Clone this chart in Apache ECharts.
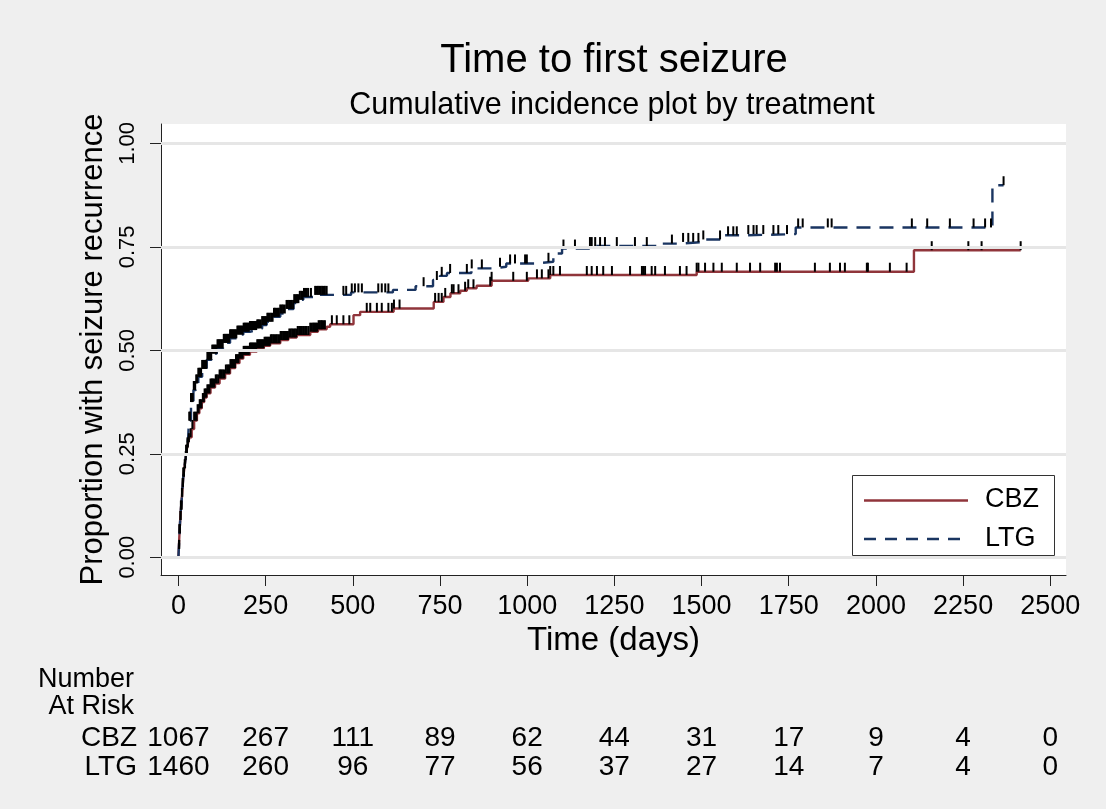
<!DOCTYPE html>
<html>
<head>
<meta charset="utf-8">
<script src="https://cdn.jsdelivr.net/npm/echarts@6/dist/echarts.min.js"></script>
<style>
  html, body { margin: 0; padding: 0; background: #efefef; }
  #chart { width: 1106px; height: 809px; }
</style>
</head>
<body>
<div id="chart"></div>
<script>
// Cumulative incidence steps [days, proportion]
var cbzSteps = [
  [0, 0], [1, 0.02], [3, 0.058], [5, 0.09], [7, 0.115], [10, 0.146], [12, 0.17], [14, 0.195],
  [17, 0.215], [20, 0.235], [22, 0.25], [25, 0.265], [28, 0.278], [32, 0.29], [38, 0.31],
  [45, 0.33], [53, 0.348], [60, 0.36], [67, 0.375], [74, 0.386], [81, 0.396], [92, 0.41],
  [105, 0.42], [118, 0.432], [134, 0.444], [148, 0.457], [163, 0.469], [175, 0.48], [186, 0.489],
  [205, 0.497], [225, 0.505], [245, 0.511], [263, 0.517], [292, 0.525], [315, 0.531], [339, 0.537],
  [378, 0.545], [400, 0.551], [425, 0.557], [435, 0.563], [502, 0.585], [521, 0.593], [617, 0.601],
  [732, 0.617], [760, 0.629], [780, 0.638], [808, 0.644], [827, 0.65], [855, 0.656], [898, 0.668],
  [1003, 0.674], [1066, 0.682], [1486, 0.69], [2109, 0.742], [2415, 0.742]
];
var ltgSteps = [
  [0, 0], [1, 0.02], [3, 0.058], [5, 0.09], [7, 0.115], [10, 0.146], [12, 0.17], [14, 0.195],
  [17, 0.215], [20, 0.235], [22, 0.25], [25, 0.268], [28, 0.29], [30, 0.33], [36, 0.375],
  [43, 0.404], [50, 0.42], [57, 0.436], [68, 0.455], [81, 0.477], [95, 0.492], [110, 0.505],
  [128, 0.518], [148, 0.529], [167, 0.538], [186, 0.545], [205, 0.549], [225, 0.553], [240, 0.561],
  [253, 0.569], [272, 0.581], [292, 0.589], [310, 0.6], [330, 0.614], [345, 0.622], [358, 0.629],
  [392, 0.634], [495, 0.64], [615, 0.646], [680, 0.655], [730, 0.67], [750, 0.68], [770, 0.687],
  [840, 0.698], [900, 0.702], [940, 0.71], [1025, 0.714], [1075, 0.734], [1100, 0.746], [1180, 0.752],
  [1380, 0.758], [1440, 0.762], [1505, 0.768], [1565, 0.778], [1630, 0.781], [1770, 0.797],
  [2334, 0.899], [2366, 0.899]
];

// Censoring times (days)
var cbzCensor = [2, 4, 6, 8, 10, 12, 14, 16, 19, 22, 24, 27, 30, 35, 40, 45, 49, 52, 55, 58, 61,
  63, 66, 70, 73, 75, 78, 80, 83, 86, 89, 92, 95, 97, 100, 103, 107, 110, 114, 118, 121, 124, 128,
  132, 136, 140, 143, 146, 149, 152, 155, 158, 162, 165, 169, 172, 175, 178, 181, 184, 187, 190,
  193, 196, 199, 202, 205, 208, 211, 214, 217, 220, 223, 226, 229, 232, 235, 238, 241, 244, 247,
  250, 253, 256, 259, 262, 265, 268, 272, 275, 279, 282, 286, 290, 293, 296, 300, 303, 306, 310,
  314, 318, 322, 326, 330, 334, 338, 342, 346, 350, 354, 358, 363, 368, 373, 378, 382, 386, 389,
  392, 395, 398, 402, 405, 409, 412, 416, 420, 440, 454, 473, 490, 540, 550, 569, 583, 602, 612,
  618, 634, 736, 746, 755, 765, 784, 789, 803, 822, 831, 846, 894, 898, 960, 999, 1028, 1042,
  1061, 1066, 1075, 1094, 1171, 1185, 1200, 1218, 1243, 1295, 1329, 1333, 1338, 1357, 1367, 1395,
  1438, 1457, 1486, 1491, 1510, 1534, 1558, 1601, 1639, 1668, 1711, 1716, 1725, 1825, 1868, 1897,
  1911, 1974, 1977, 2040, 2088, 2160, 2265, 2303, 2415];
var ltgCensor = [2, 3, 4, 6, 7, 9, 11, 13, 15, 18, 21, 24, 26, 31, 33, 36, 38, 41, 44, 46, 48, 51,
  54, 57, 60, 62, 65, 68, 71, 74, 77, 80, 83, 86, 88, 91, 94, 97, 100, 103, 106, 109, 112, 115,
  118, 121, 124, 127, 130, 133, 136, 139, 142, 145, 148, 151, 154, 157, 160, 163, 166, 169, 172,
  175, 178, 181, 184, 187, 190, 193, 196, 199, 202, 205, 208, 211, 214, 217, 220, 223, 226, 229,
  232, 236, 240, 244, 247, 251, 255, 258, 262, 266, 270, 274, 277, 281, 285, 288, 292, 296, 300,
  305, 310, 314, 318, 322, 325, 329, 332, 336, 340, 344, 348, 352, 356, 360, 364, 368, 372, 380,
  392, 396, 400, 404, 408, 412, 416, 420, 425, 473, 481, 497, 506, 516, 526, 573, 583, 593, 602,
  703, 741, 755, 779, 827, 841, 870, 922, 951, 965, 994, 999, 1061, 1104, 1137, 1180, 1185, 1195,
  1209, 1223, 1257, 1309, 1343, 1415, 1447, 1462, 1476, 1491, 1505, 1553, 1576, 1591, 1601, 1634,
  1649, 1658, 1677, 1706, 1720, 1745, 1777, 1790, 1862, 1873, 2103, 2147, 2212, 2280, 2313, 2330,
  2366];

// Number at risk table
var riskTimes = [0, 250, 500, 750, 1000, 1250, 1500, 1750, 2000, 2250, 2500];
var cbzAtRisk = [1067, 267, 111, 89, 62, 44, 31, 17, 9, 4, 0];
var ltgAtRisk = [1460, 260, 96, 77, 56, 37, 27, 14, 7, 4, 0];

var xTicks = [0, 250, 500, 750, 1000, 1250, 1500, 1750, 2000, 2250, 2500];
var yTicks = [0, 0.25, 0.5, 0.75, 1];

var font = 'Liberation Sans, Arial, sans-serif';
var cbzColor = '#90353b';
var ltgColor = '#1a3561';

// value of a step curve at time t
function valueAt(steps, t) {
  var v = 0;
  for (var i = 0; i < steps.length; i++) {
    if (steps[i][0] <= t) v = steps[i][1];
  }
  return v;
}

function censorPoints(steps, times) {
  return times.map(function (t) { return [t, valueAt(steps, t)]; });
}

function riskRow(name, counts) {
  return riskTimes.map(function (t, i) { return [t, name, counts[i]]; });
}

var myChart = echarts.init(document.getElementById('chart'));

var option = {
  backgroundColor: '#efefef',
  animation: false,
  title: [
    {
      text: 'Time to first seizure',
      left: 609, top: 36, textAlign: 'center',
      textStyle: { fontFamily: font, fontSize: 40, fontWeight: 'normal', color: '#000' }
    },
    {
      text: 'Cumulative incidence plot by treatment',
      left: 607, top: 85, textAlign: 'center',
      textStyle: { fontFamily: font, fontSize: 30.5, fontWeight: 'normal', color: '#000' }
    }
  ],
  grid: [
    { left: 161, right: 40, top: 124, bottom: 234, backgroundColor: '#fff', show: true, borderWidth: 0 },
    { left: 161, right: 40, top: 724, height: 58 }
  ],
  xAxis: [
    {
      type: 'value', gridIndex: 0, min: -50, max: 2545,
      name: 'Time (days)', nameLocation: 'middle', nameGap: 47,
      nameTextStyle: { fontFamily: font, fontSize: 33, color: '#000' },
      axisLine: { show: true, onZero: false, lineStyle: { color: '#222', width: 1 } },
      axisTick: { show: true, length: 11, customValues: xTicks, lineStyle: { color: '#222' } },
      axisLabel: {
        customValues: xTicks, margin: 18, fontFamily: font, fontSize: 27, color: '#000',
        formatter: function (v) { return String(v); }
      },
      splitLine: { show: false }
    },
    {
      type: 'value', gridIndex: 1, min: -50, max: 2545, show: false
    }
  ],
  yAxis: [
    {
      type: 'value', gridIndex: 0, min: -0.043, max: 1.047,
      name: 'Proportion with seizure recurrence', nameLocation: 'middle', nameGap: 48, nameRotate: 90,
      nameTextStyle: { fontFamily: font, fontSize: 31, color: '#000' },
      axisLine: { show: true, onZero: false, lineStyle: { color: '#222', width: 1 } },
      axisTick: { show: true, length: 11, customValues: yTicks, lineStyle: { color: '#222' } },
      axisLabel: {
        customValues: yTicks, rotate: 90, margin: 22, fontFamily: font, fontSize: 22, color: '#000',
        formatter: function (v) { return v.toFixed(2); }
      },
      splitLine: { show: false }
    },
    {
      type: 'category', gridIndex: 1, data: ['CBZ', 'LTG'], inverse: true, show: false
    }
  ],
  series: [
    {
      // horizontal reference lines at the labelled ticks
      type: 'line', xAxisIndex: 0, yAxisIndex: 0, data: [], silent: true,
      markLine: {
        silent: true, symbol: 'none', label: { show: false },
        lineStyle: { color: '#e6e6e6', width: 3, type: 'solid' },
        data: yTicks.map(function (v) { return { yAxis: v }; })
      }
    },
    {
      name: 'CBZ', type: 'line', step: 'end', showSymbol: false, symbol: 'none',
      data: cbzSteps, z: 3,
      lineStyle: { color: cbzColor, width: 2.4 }, itemStyle: { color: cbzColor }
    },
    {
      name: 'LTG', type: 'line', step: 'end', showSymbol: false, symbol: 'none',
      data: ltgSteps, z: 3,
      lineStyle: { color: ltgColor, width: 2.4, type: [14, 9] }, itemStyle: { color: ltgColor }
    },
    {
      type: 'scatter', data: censorPoints(cbzSteps, cbzCensor), z: 4, silent: true,
      symbol: 'rect', symbolSize: [2, 9], symbolOffset: [0, -4.5],
      itemStyle: { color: '#000', opacity: 1 }
    },
    {
      type: 'scatter', data: censorPoints(ltgSteps, ltgCensor), z: 4, silent: true,
      symbol: 'rect', symbolSize: [2, 9], symbolOffset: [0, -4.5],
      itemStyle: { color: '#000', opacity: 1 }
    },
    {
      type: 'scatter', xAxisIndex: 1, yAxisIndex: 1, silent: true,
      data: riskRow('CBZ', cbzAtRisk).concat(riskRow('LTG', ltgAtRisk)),
      symbolSize: 1, itemStyle: { color: 'transparent', opacity: 1 },
      label: {
        show: true, position: 'inside', fontFamily: font, fontSize: 28, color: '#000',
        textBorderWidth: 0,
        formatter: function (p) { return p.value[2]; }
      }
    }
  ],
  graphic: [
    // legend box
    { type: 'rect', shape: { x: 852.5, y: 475.5, width: 202, height: 80 },
      style: { fill: '#fff', stroke: '#333', lineWidth: 1 }, z: 10 },
    { type: 'line', shape: { x1: 864, y1: 500.5, x2: 968, y2: 500.5 },
      style: { stroke: cbzColor, lineWidth: 2.4 }, z: 11 },
    { type: 'line', shape: { x1: 864, y1: 539, x2: 968, y2: 539 },
      style: { stroke: ltgColor, lineWidth: 2.4, lineDash: [12, 9] }, z: 11 },
    { type: 'text', left: 985, top: 486, z: 11,
      style: { text: 'CBZ', font: '27px ' + font, fill: '#000' } },
    { type: 'text', left: 985, top: 525, z: 11,
      style: { text: 'LTG', font: '27px ' + font, fill: '#000' } },
    // number at risk labels
    { type: 'text', right: 1106 - 134, top: 666, style: { text: 'Number', textAlign: 'right', font: '27px ' + font, fill: '#000' } },
    { type: 'text', right: 1106 - 134, top: 693, style: { text: 'At Risk', textAlign: 'right', font: '27px ' + font, fill: '#000' } },
    { type: 'text', right: 1106 - 137, top: 724, style: { text: 'CBZ', textAlign: 'right', font: '28px ' + font, fill: '#000' } },
    { type: 'text', right: 1106 - 137, top: 753, style: { text: 'LTG', textAlign: 'right', font: '28px ' + font, fill: '#000' } }
  ]
};

myChart.setOption(option);
</script>
</body>
</html>
